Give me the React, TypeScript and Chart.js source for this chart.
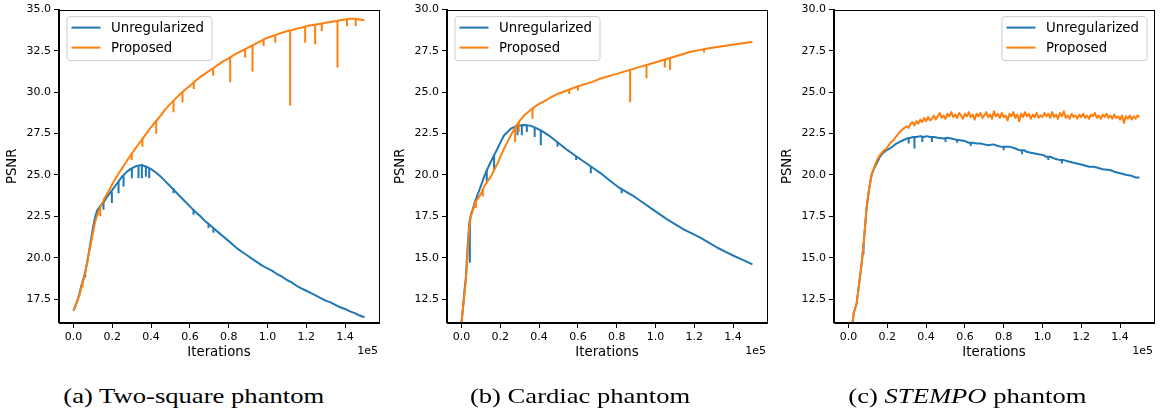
import React, { useEffect, useRef } from "react";
import { Chart, registerables } from "chart.js";
Chart.register(...registerables);

// ---------------- labels / ticks ----------------
const SERIES_LABELS = ["Unregularized", "Proposed"];
const X_TITLE = "Iterations";
const Y_TITLE = "PSNR";
const X_OFFSET_LABEL = "1e5";
const X_TICKS = [0, 20000, 40000, 60000, 80000, 100000, 120000, 140000];
const Y_TICKS_A = [17.5, 20, 22.5, 25, 27.5, 30, 32.5, 35];
const Y_TICKS_BC = [12.5, 15, 17.5, 20, 22.5, 25, 27.5, 30];
const CAPTIONS = ["(a) Two-square phantom", "(b) Cardiac phantom", "(c) STEMPO phantom"];
const ITALIC_WORD = "STEMPO";

// ---------------- (a) Two-square phantom ----------------
const A_UNREG: [number, number][] = [
  [0, 16.8], [1000, 17.1], [2000, 17.4], [3000, 17.8], [4000, 18.3], [5000, 18.7], [6000, 19.1], [7000, 19.7],
  [8000, 20.4], [9000, 21.1], [10000, 21.8], [11000, 22.4], [12000, 22.8], [13000, 23.0], [14000, 23.15],
  [16000, 23.45], [18000, 23.8], [20000, 24.1], [22500, 24.5], [25000, 24.9], [27500, 25.2], [30000, 25.4],
  [32500, 25.55], [35000, 25.6], [37500, 25.5], [40000, 25.35], [42500, 25.15], [45000, 24.9], [47500, 24.6],
  [50000, 24.3], [52500, 24.0], [55000, 23.7], [57500, 23.4], [60000, 23.1], [62500, 22.8], [65000, 22.55],
  [67500, 22.25], [70000, 22.0], [72500, 21.75], [75000, 21.5], [77500, 21.25], [80000, 21.0], [82500, 20.75],
  [85000, 20.5], [87500, 20.3], [90000, 20.1], [92500, 19.9], [95000, 19.7], [97500, 19.5], [100000, 19.35],
  [102500, 19.2], [105000, 19.0], [107500, 18.85], [110000, 18.65], [112500, 18.5], [115000, 18.3],
  [117500, 18.15], [120000, 18.0], [122500, 17.85], [125000, 17.7], [127500, 17.55], [130000, 17.4],
  [132500, 17.3], [135000, 17.15], [137500, 17.0], [140000, 16.9], [142500, 16.75], [145000, 16.65],
  [147500, 16.5], [150000, 16.4],
];
const A_UNREG_DIPS: [number, number, number][] = [
  [6000, 19.1, 18.8], [15460, 23.4, 22.9], [19760, 24.0, 23.3], [23200, 24.6, 23.9], [25770, 25.0, 24.3],
  [30070, 25.4, 24.8], [33500, 25.6, 24.8], [35220, 25.6, 24.8], [37290, 25.5, 24.9], [39000, 25.4, 24.8],
  [51550, 24.2, 23.9], [61860, 22.95, 22.6], [69590, 22.05, 21.8], [72160, 21.8, 21.5],
];
const A_PROP: [number, number][] = [
  [0, 16.8], [1000, 17.1], [2000, 17.4], [3000, 17.7], [4000, 18.2], [5000, 18.6], [6000, 19.1], [7000, 19.7],
  [8000, 20.3], [9000, 20.9], [10000, 21.5], [11000, 22.1], [12000, 22.5], [13000, 22.8], [14000, 23.1],
  [16000, 23.6], [18000, 24.0], [20000, 24.45], [22500, 24.95], [25000, 25.4], [27500, 25.85], [30000, 26.3],
  [32500, 26.7], [35000, 27.1], [37500, 27.5], [40000, 27.9], [42500, 28.25], [45000, 28.6], [47500, 29.0],
  [50000, 29.3], [52500, 29.6], [55000, 29.9], [57500, 30.15], [60000, 30.4], [62500, 30.65], [65000, 30.9],
  [67500, 31.1], [70000, 31.3], [72500, 31.5], [75000, 31.7], [77500, 31.9], [80000, 32.05], [82500, 32.25],
  [85000, 32.4], [87500, 32.55], [90000, 32.7], [92500, 32.85], [95000, 33.0], [97500, 33.15], [100000, 33.3],
  [102500, 33.4], [105000, 33.5], [107500, 33.6], [110000, 33.7], [112500, 33.75], [115000, 33.85],
  [117500, 33.9], [120000, 34.0], [122500, 34.05], [125000, 34.1], [127500, 34.15], [130000, 34.2],
  [132500, 34.25], [135000, 34.3], [137500, 34.35], [140000, 34.4], [142500, 34.45], [145000, 34.45],
  [147500, 34.4], [150000, 34.35],
];
const A_PROP_DIPS: [number, number, number][] = [
  [4640, 18.5, 18.2], [13800, 23.0, 22.5], [30000, 26.3, 25.9], [35500, 27.2, 26.7], [42630, 28.3, 27.5],
  [51550, 29.45, 28.8], [56190, 30.05, 29.4], [62000, 30.6, 30.2], [72000, 31.4, 31.0], [80770, 32.1, 30.6],
  [88500, 32.6, 32.1], [92270, 32.8, 31.25], [98000, 33.2, 32.8], [104000, 33.45, 33.0], [111700, 33.75, 29.2],
  [119430, 33.95, 33.0], [124590, 34.1, 32.9], [128000, 34.15, 33.7], [136080, 34.3, 31.5],
  [141000, 34.4, 34.0], [145500, 34.45, 34.0],
];

// ---------------- (b) Cardiac phantom ----------------
const B_UNREG: [number, number][] = [
  [0, 11.1], [700, 11.9], [1340, 12.8], [2220, 13.8], [3100, 15.6], [3930, 17.0], [4800, 17.6], [5670, 17.9],
  [7000, 18.4], [8250, 18.8], [10000, 19.35], [11650, 19.9], [13300, 20.35], [15100, 20.8], [16800, 21.2],
  [18560, 21.6], [20200, 22.0], [21960, 22.4], [23700, 22.6], [25410, 22.8], [27100, 22.9], [28870, 22.97],
  [30500, 23.0], [32270, 23.02], [34000, 23.0], [35720, 22.97], [38300, 22.85], [40880, 22.7], [43500, 22.5],
  [46030, 22.3], [50300, 21.9], [54640, 21.5], [58900, 21.15], [63200, 20.8], [67500, 20.45], [71800, 20.1],
  [76100, 19.7], [80410, 19.3], [84700, 19.0], [88970, 18.7], [93300, 18.35], [97580, 18.0], [101900, 17.65],
  [106190, 17.3], [110500, 17.0], [114740, 16.7], [119000, 16.45], [123350, 16.2], [127700, 15.9],
  [131960, 15.6], [136200, 15.35], [140520, 15.1], [145300, 14.85], [150000, 14.6],
];
const B_UNREG_DIPS: [number, number, number][] = [
  [4280, 17.3, 14.7], [13000, 20.3, 19.6], [16800, 21.2, 20.3], [28870, 22.97, 22.4], [31080, 23.0, 22.4],
  [33660, 23.0, 22.6], [37700, 22.9, 22.3], [40880, 22.7, 21.8], [49480, 22.0, 21.7], [59100, 21.15, 20.9],
  [66650, 20.55, 20.1], [82550, 19.15, 18.9],
];
const B_PROP: [number, number][] = [
  [0, 11.1], [700, 11.9], [1340, 12.6], [2220, 13.6], [3100, 15.2], [3930, 16.8], [4800, 17.5], [5670, 17.8],
  [6500, 18.1], [7370, 18.4], [8600, 18.6], [9950, 18.85], [11650, 19.3], [13300, 19.6], [15100, 19.9],
  [16800, 20.3], [18560, 20.7], [20200, 21.15], [21960, 21.6], [23700, 22.0], [25410, 22.4], [27100, 22.75],
  [28870, 23.1], [30500, 23.35], [32270, 23.6], [34800, 23.85], [37420, 24.1], [40000, 24.3], [42580, 24.45],
  [46050, 24.7], [49500, 24.9], [52920, 25.05], [56350, 25.2], [59790, 25.35], [63200, 25.48], [66670, 25.6],
  [71000, 25.8], [75260, 25.95], [79500, 26.1], [83850, 26.25], [88100, 26.4], [92440, 26.55], [96700, 26.7],
  [101030, 26.85], [105300, 27.0], [109620, 27.15], [113900, 27.3], [118210, 27.45], [122500, 27.55],
  [126800, 27.65], [131100, 27.72], [135400, 27.8], [139700, 27.88], [143990, 27.95], [147000, 28.0],
  [150000, 28.05],
];
const B_PROP_DIPS: [number, number, number][] = [
  [7370, 18.4, 18.0], [11000, 19.1, 18.7], [27630, 22.9, 22.0], [29500, 23.2, 22.6], [36600, 24.05, 23.4],
  [55460, 25.15, 24.9], [60000, 25.35, 25.1], [86920, 26.35, 24.4], [95360, 26.65, 25.85],
  [104800, 27.0, 26.5], [107530, 27.1, 26.35], [125000, 27.6, 27.4],
];

// ---------------- (c) STEMPO phantom ----------------
const C_UNREG: [number, number][] = [
  [0, 9.0], [1000, 10.0], [2000, 11.0], [2750, 11.7], [4130, 12.2], [4990, 13.0], [6710, 14.6], [7910, 16.0],
  [9290, 18.0], [10660, 19.2], [11870, 20.0], [13590, 20.5], [14900, 20.8], [16170, 21.1], [17900, 21.35],
  [19610, 21.5], [21300, 21.6], [23050, 21.75], [24700, 21.9], [26400, 22.0], [28210, 22.1], [30000, 22.2],
  [32000, 22.25], [33370, 22.3], [35000, 22.3], [37000, 22.35], [39000, 22.3], [40250, 22.35], [42000, 22.3],
  [44000, 22.3], [46000, 22.25], [48850, 22.2], [51000, 22.25], [53000, 22.2], [55000, 22.15], [57450, 22.1],
  [60000, 22.05], [62000, 21.95], [64000, 21.95], [66050, 21.9], [68000, 21.9], [70000, 21.85], [72000, 21.8],
  [74650, 21.85], [77000, 21.75], [79000, 21.7], [81000, 21.7], [83250, 21.7], [86000, 21.6], [88000, 21.5],
  [90500, 21.5], [91850, 21.4], [94000, 21.35], [96000, 21.3], [98000, 21.25], [100450, 21.2], [102000, 21.1],
  [104000, 21.1], [106000, 21.0], [109050, 20.9], [111000, 20.9], [114000, 20.8], [117650, 20.7],
  [121000, 20.6], [124000, 20.5], [126250, 20.5], [128000, 20.45], [131000, 20.35], [134850, 20.3],
  [137000, 20.2], [140000, 20.1], [143440, 20.0], [146000, 19.95], [148000, 19.85], [150000, 19.85],
];
const C_UNREG_DIPS: [number, number, number][] = [
  [7700, 15.8, 15.2], [31000, 22.25, 21.9], [34000, 22.3, 21.6], [38000, 22.35, 22.0], [43000, 22.3, 22.0],
  [50000, 22.2, 22.0], [56000, 22.15, 21.95], [63000, 21.95, 21.75], [80000, 21.7, 21.5],
  [89500, 21.5, 21.25], [103000, 21.1, 20.9], [110000, 20.9, 20.7],
];
const C_PROP: [number, number][] = [
  [0, 9.0], [1000, 10.0], [2000, 11.0], [2750, 11.7], [4130, 12.2], [4990, 13.0], [6710, 14.6], [7910, 16.0],
  [9290, 18.0], [10660, 19.2], [11870, 20.0], [13590, 20.6], [14900, 20.95], [16170, 21.2], [17900, 21.45],
  [19610, 21.6], [21300, 21.9], [23050, 22.1], [24700, 22.35], [26400, 22.6], [28210, 22.8],
  [30000, 22.95], [31000, 22.85], [32000, 23.1], [33000, 23.2], [34000, 23.0], [35000, 23.25], [36000, 23.1],
  [37000, 23.35], [38000, 23.2], [39000, 23.45], [40000, 23.25], [41000, 23.5], [42000, 23.3], [43000, 23.4],
  [44000, 23.6], [45000, 23.35], [46000, 23.55], [47000, 23.75], [48000, 23.45], [49000, 23.6], [50000, 23.4],
  [51000, 23.7], [52000, 23.55], [53000, 23.8], [54000, 23.5], [55000, 23.65], [56000, 23.45], [57000, 23.75],
  [58000, 23.6], [59000, 23.4], [60000, 23.7], [61000, 23.55], [62000, 23.8], [63000, 23.5], [64000, 23.65],
  [65000, 23.35], [66000, 23.7], [67000, 23.55], [68000, 23.75], [69000, 23.45], [70000, 23.6], [71000, 23.8],
  [72000, 23.5], [73000, 23.65], [74000, 23.4], [75000, 23.85], [76000, 23.55], [77000, 23.7], [78000, 23.45],
  [79000, 23.75], [80000, 23.5], [81000, 23.6], [82000, 23.3], [83000, 23.7], [84000, 23.55], [85000, 23.8],
  [86000, 23.45], [87000, 23.65], [88000, 23.25], [89000, 23.7], [90000, 23.5], [91000, 23.8], [92000, 23.55],
  [93000, 23.7], [94000, 23.4], [95000, 23.65], [96000, 23.5], [97000, 23.75], [98000, 23.45], [99000, 23.6],
  [100000, 23.5], [101000, 23.75], [102000, 23.55], [103000, 23.7], [104000, 23.45], [105000, 23.8],
  [106000, 23.5], [107000, 23.65], [108000, 23.4], [109000, 23.75], [110000, 23.55], [111000, 23.85],
  [112000, 23.45], [113000, 23.6], [114000, 23.4], [115000, 23.7], [116000, 23.5], [117000, 23.6],
  [118000, 23.4], [119000, 23.65], [120000, 23.5], [121000, 23.7], [122000, 23.45], [123000, 23.6],
  [124000, 23.4], [125000, 23.65], [126000, 23.55], [127000, 23.75], [128000, 23.45], [129000, 23.6],
  [130000, 23.4], [131000, 23.65], [132000, 23.5], [133000, 23.7], [134000, 23.45], [135000, 23.6],
  [136000, 23.4], [137000, 23.65], [138000, 23.45], [139000, 23.55], [140000, 23.35], [141000, 23.6],
  [142000, 23.15], [143000, 23.55], [144000, 23.4], [145000, 23.6], [146000, 23.35], [147000, 23.55],
  [148000, 23.4], [149000, 23.6], [150000, 23.5],
];
const C_PROP_DIPS: [number, number, number][] = [];

// ---------------- styling ----------------
const BLUE = "#1f77b4";
const ORANGE = "#ff7f0e";
const SANS = "'DejaVu Sans', sans-serif";
const SERIF = "'Liberation Serif', 'DejaVu Serif', serif";

type PanelProps = {
  canvasLeft: number;
  yMin: number;
  yMax: number;
  yTicks: number[];
  unreg: [number, number][];
  unregDips: [number, number, number][];
  prop: [number, number][];
  propDips: [number, number, number][];
  legendSide: "left" | "right";
};

const CW = 390;
const CH = 370;

function lineDs(pts: [number, number][], color: string, order: number) {
  return {
    data: pts.map(([x, y]) => ({ x, y })),
    borderColor: color,
    backgroundColor: color,
    borderWidth: 2,
    pointRadius: 0,
    pointHoverRadius: 0,
    tension: 0,
    fill: false,
    order,
    clip: 0,
    borderJoinStyle: "round" as const,
    spanGaps: false,
  };
}
function dipDs(dips: [number, number, number][], color: string, order: number) {
  const data: { x: number; y: number | null }[] = [];
  dips.forEach(([x, t, b]) => {
    data.push({ x, y: t }, { x, y: b }, { x, y: null });
  });
  return {
    data,
    borderColor: color,
    backgroundColor: color,
    borderWidth: 2,
    pointRadius: 0,
    pointHoverRadius: 0,
    tension: 0,
    fill: false,
    order,
    clip: 0,
    spanGaps: false,
  };
}

function Panel(p: PanelProps) {
  const ref = useRef<HTMLCanvasElement | null>(null);
  useEffect(() => {
    if (!ref.current) return;
    const overlay = {
      id: "overlay",
      afterDatasetsDraw(chart: any) {
        const { ctx, chartArea: ca } = chart;
        ctx.save();
        // frame
        ctx.strokeStyle = "#000";
        ctx.lineWidth = 1;
        ctx.strokeRect(Math.round(ca.left) - 0.5, Math.round(ca.top) + 0.5, Math.round(ca.right - ca.left) + 1, Math.round(ca.bottom - ca.top) - 1);
        // legend
        const bw = 145;
        const bh = 44;
        const bx = p.legendSide === "left" ? ca.left + 8 : ca.right - 7 - bw;
        const by = ca.top + 7;
        ctx.beginPath();
        const r = 3;
        ctx.moveTo(bx + r, by);
        ctx.lineTo(bx + bw - r, by);
        ctx.arcTo(bx + bw, by, bx + bw, by + r, r);
        ctx.lineTo(bx + bw, by + bh - r);
        ctx.arcTo(bx + bw, by + bh, bx + bw - r, by + bh, r);
        ctx.lineTo(bx + r, by + bh);
        ctx.arcTo(bx, by + bh, bx, by + bh - r, r);
        ctx.lineTo(bx, by + r);
        ctx.arcTo(bx, by, bx + r, by, r);
        ctx.closePath();
        ctx.fillStyle = "rgba(255,255,255,0.8)";
        ctx.fill();
        ctx.strokeStyle = "#cccccc";
        ctx.stroke();
        const colors = [BLUE, ORANGE];
        ctx.font = `13.3px ${SANS}`;
        ctx.textBaseline = "middle";
        ctx.textAlign = "left";
        SERIES_LABELS.forEach((lab, i) => {
          const y = by + 11 + i * 20;
          ctx.strokeStyle = colors[i];
          ctx.lineWidth = 2;
          ctx.beginPath();
          ctx.moveTo(bx + 4.5, y);
          ctx.lineTo(bx + 33.5, y);
          ctx.stroke();
          ctx.fillStyle = "#000";
          ctx.fillText(lab, bx + 44, y + 0.5);
        });
        // offset label
        ctx.font = `11px ${SANS}`;
        ctx.textAlign = "right";
        ctx.fillStyle = "#000";
        ctx.fillText(X_OFFSET_LABEL, ca.right - 1, 351);
        ctx.restore();
      },
    };
    const tickFont = { family: SANS, size: 11 };
    const titleFont = { family: SANS, size: 13.3 };
    const chart = new Chart(ref.current, {
      type: "line",
      data: {
        datasets: [
          lineDs(p.prop, ORANGE, 0),
          dipDs(p.propDips, ORANGE, 0),
          lineDs(p.unreg, BLUE, 1),
          dipDs(p.unregDips, BLUE, 1),
        ] as any,
      },
      options: {
        animation: false,
        responsive: false,
        devicePixelRatio: 1,
        events: [],
        layout: { padding: { left: 0, top: 7, right: 11, bottom: 0 } },
        plugins: { legend: { display: false }, tooltip: { enabled: false }, title: { display: false } },
        scales: {
          x: {
            type: "linear",
            min: -7500,
            max: 157500,
            afterBuildTicks: (s: any) => {
              s.ticks = X_TICKS.map((v) => ({ value: v }));
            },
            afterFit: (s: any) => {
              s.height = 47;
            },
            ticks: {
              autoSkip: false,
              maxRotation: 0,
              color: "#000",
              font: tickFont,
              padding: 3,
              callback: (v: any) => (Number(v) / 1e5).toFixed(1),
            },
            grid: { drawOnChartArea: false, drawTicks: true, tickLength: 5, tickColor: "#000", tickWidth: 1 },
            border: { display: true, color: "#000", width: 1 },
            title: { display: true, text: X_TITLE, color: "#000", font: titleFont, padding: { top: 0, bottom: 9.3 } },
          },
          y: {
            type: "linear",
            min: p.yMin,
            max: p.yMax,
            afterBuildTicks: (s: any) => {
              s.ticks = p.yTicks.map((v) => ({ value: v }));
            },
            afterFit: (s: any) => {
              s.width = 59;
            },
            ticks: {
              autoSkip: false,
              color: "#000",
              font: tickFont,
              padding: 3,
              callback: (v: any) => Number(v).toFixed(1),
            },
            grid: { drawOnChartArea: false, drawTicks: true, tickLength: 5, tickColor: "#000", tickWidth: 1 },
            border: { display: true, color: "#000", width: 1 },
            title: { display: true, text: Y_TITLE, color: "#000", font: titleFont, padding: { top: 4.5, bottom: 0 } },
          },
        },
      } as any,
      plugins: [overlay],
    });
    return () => chart.destroy();
  }, []);
  return (
    <canvas
      ref={ref}
      width={CW}
      height={CH}
      style={{ position: "absolute", left: p.canvasLeft, top: 0, width: CW, height: CH }}
    />
  );
}

function Caption({ text, left }: { text: string; left: number }) {
  const idx = text.indexOf(ITALIC_WORD);
  const content =
    idx >= 0 ? (
      <>
        {text.slice(0, idx)}
        <i>{ITALIC_WORD}</i>
        {text.slice(idx + ITALIC_WORD.length)}
      </>
    ) : (
      text
    );
  return (
    <div
      style={{
        position: "absolute",
        left,
        top: 385,
        width: 387,
        height: 24,
        lineHeight: "22px",
        textAlign: "center",
        fontFamily: SERIF,
        fontSize: 22,
        color: "#000",
        whiteSpace: "nowrap",
      }}
    >
      <span style={{ display: "inline-block", transform: "scaleX(1.21)", transformOrigin: "center" }}>{content}</span>
    </div>
  );
}

export default function App() {
  return (
    <div style={{ position: "absolute", left: 0, top: 0, width: 1166, height: 419, background: "#fff", overflow: "hidden" }}>
      <Panel canvasLeft={0} yMin={16.05} yMax={35} yTicks={Y_TICKS_A} unreg={A_UNREG} unregDips={A_UNREG_DIPS} prop={A_PROP} propDips={A_PROP_DIPS} legendSide="left" />
      <Panel canvasLeft={388} yMin={11.05} yMax={30} yTicks={Y_TICKS_BC} unreg={B_UNREG} unregDips={B_UNREG_DIPS} prop={B_PROP} propDips={B_PROP_DIPS} legendSide="left" />
      <Panel canvasLeft={775} yMin={11.05} yMax={30} yTicks={Y_TICKS_BC} unreg={C_UNREG} unregDips={C_UNREG_DIPS} prop={C_PROP} propDips={C_PROP_DIPS} legendSide="right" />
      <Caption text={CAPTIONS[0]} left={0} />
      <Caption text={CAPTIONS[1]} left={387} />
      <Caption text={CAPTIONS[2]} left={774} />
    </div>
  );
}
